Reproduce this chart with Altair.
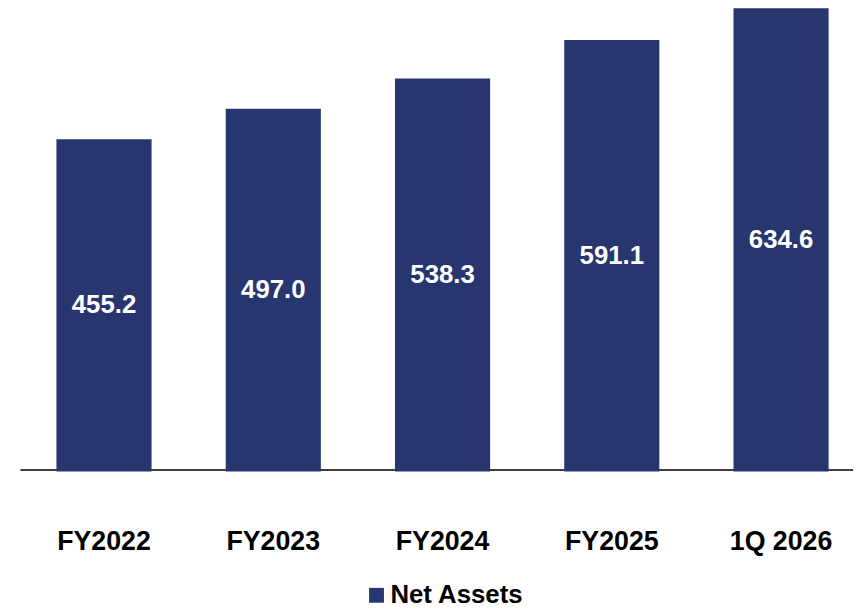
import altair as alt
import pandas as pd

categories = ["FY2022", "FY2023", "FY2024", "FY2025", "1Q 2026"]
values = [455.2, 497.0, 538.3, 591.1, 634.6]
labels = ["455.2", "497.0", "538.3", "591.1", "634.6"]
series_name = "Net Assets"
bar_color = "#27366f"

df = pd.DataFrame({
    "period": categories,
    "value": values,
    "label": labels,
    "series": [series_name] * len(categories),
})

FONT = "Liberation Sans"

x_enc = alt.X(
    "period:N",
    sort=categories,
    scale=alt.Scale(paddingInner=0.438, paddingOuter=0.18, align=0.6),
    axis=alt.Axis(
        title=None, labelAngle=0, ticks=False, tickSize=0, grid=False,
        domainColor="black", domainWidth=1.5,
        labelFont=FONT, labelFontSize=27, labelFontWeight="bold", labelColor="black",
        labelBaseline="alphabetic", labelPadding=81, offset=-2,
    ),
)

y_scale = alt.Scale(domain=[0, 631], nice=False, zero=True)

bars = alt.Chart(df).mark_bar().encode(
    x=x_enc,
    y=alt.Y("value:Q", scale=y_scale, axis=None),
    color=alt.Color(
        "series:N",
        scale=alt.Scale(domain=[series_name], range=[bar_color]),
        legend=alt.Legend(
            title=None, orient="none", legendX=347, legendY=577,
            symbolType="square", symbolSize=225, symbolStrokeWidth=0, symbolOpacity=1,
            labelFont=FONT, labelFontSize=26, labelFontWeight="bold", labelColor="black",
            labelOffset=1, padding=0,
        ),
    ),
)

text = alt.Chart(df).transform_calculate(mid="datum.value / 2").mark_text(
    font=FONT, fontSize=26, fontWeight="bold", color="white", baseline="middle", align="center"
).encode(
    x=alt.X("period:N", sort=categories),
    y=alt.Y("mid:Q", scale=y_scale, axis=None),
    text="label:N",
)

chart = alt.layer(bars, text).properties(
    width=841,
    height=465,
    autosize=alt.AutoSizeParams(type="none"),
    padding={"left": 12, "top": 0, "right": 0, "bottom": 137},
).configure_view(stroke=None)

chart.save("out.html", embed_options={"renderer": "svg", "actions": False})
